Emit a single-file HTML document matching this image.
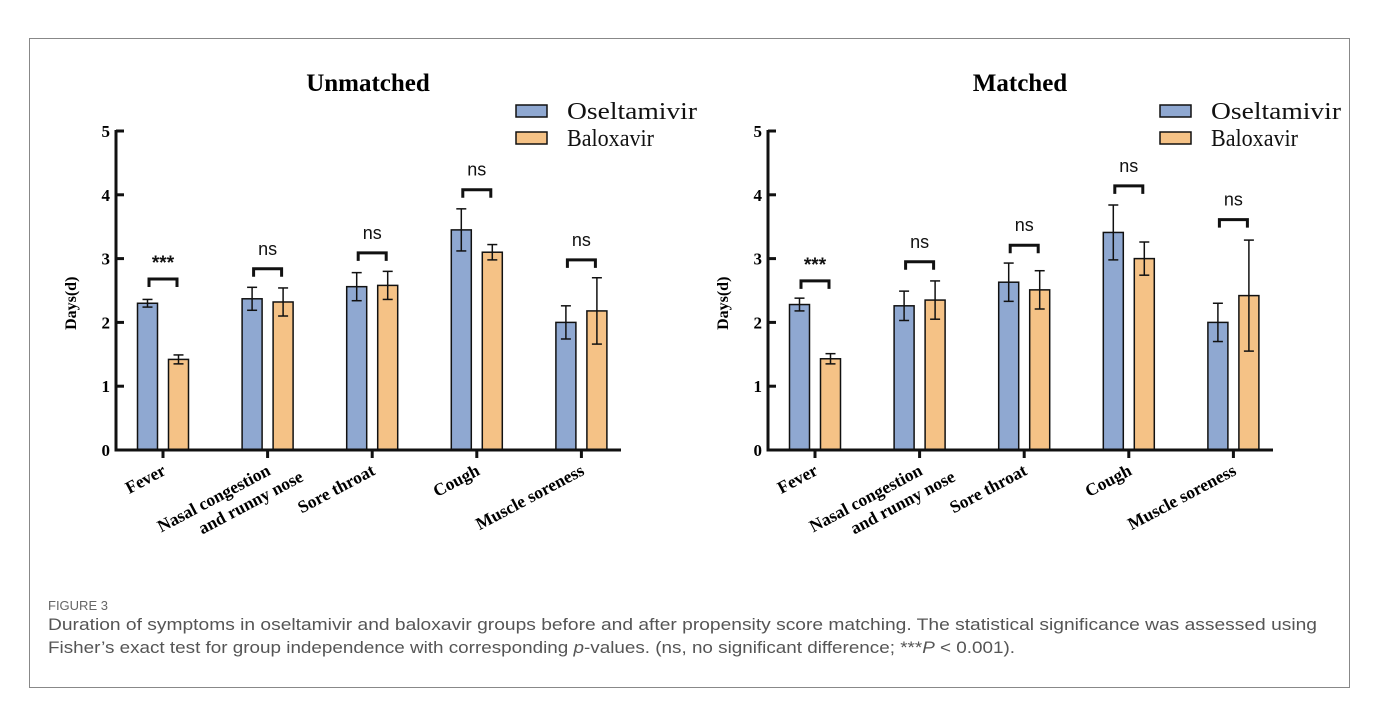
<!DOCTYPE html>
<html><head><meta charset="utf-8">
<style>
body{margin:0;background:#fff;width:1388px;height:716px;overflow:hidden;font-family:"Liberation Sans",sans-serif}
#frame{position:absolute;left:29px;top:38px;width:1321px;height:650px;border:1px solid #888;box-sizing:border-box}
.cap{position:absolute;left:48px;color:#555;font-size:17px;line-height:23px;white-space:nowrap;transform-origin:0 0}
</style></head><body>
<div id="frame"></div>
<svg id="svg" width="1388" height="716" style="position:absolute;left:0;top:0"></svg>
<div class="cap" style="top:594px;font-size:13px;color:#666">FIGURE 3</div>
<div class="cap fit" style="top:613px">Duration of symptoms in oseltamivir and baloxavir groups before and after propensity score matching. The statistical significance was assessed using</div>
<div class="cap fit" style="top:636px">Fisher’s exact test for group independence with corresponding <i>p</i>-values. (ns, no significant difference; ***<i>P</i> &lt; 0.001).</div>
<script>
const categories=["Fever","Nasal congestion|and runny nose","Sore throat","Cough","Muscle soreness"];
const yTicks=[0,1,2,3,4,5];
const unO=[2.30,2.37,2.56,3.45,2.00];
const unOerr=[0.06,0.18,0.22,0.33,0.26];
const unB=[1.42,2.32,2.58,3.10,2.18];
const unBerr=[0.07,0.22,0.22,0.12,0.52];
const unSig=["***","ns","ns","ns","ns"];
const unBr=[2.68,2.84,3.09,4.08,2.98];
const maO=[2.28,2.26,2.63,3.41,2.00];
const maOerr=[0.10,0.23,0.30,0.43,0.30];
const maB=[1.43,2.35,2.51,3.00,2.42];
const maBerr=[0.08,0.30,0.30,0.26,0.87];
const maSig=["***","ns","ns","ns","ns"];
const maBr=[2.65,2.95,3.21,4.14,3.61];

const svg=document.getElementById('svg');
const NS='http://www.w3.org/2000/svg';
function mk(tag,attrs,parent,text){const e=document.createElementNS(NS,tag);for(const k in attrs)e.setAttribute(k,attrs[k]);if(text!==undefined)e.textContent=text;(parent||svg).appendChild(e);return e;}
const SERIF='"Liberation Serif",serif';
function chart(name,ax0,legX,title,O,Oe,B,Be,sig,br){
  const g=mk('g',{});
  
  
  const y0=450,yTop=131,x1=ax0+505;
  const y=v=>y0-(v/5)*(y0-yTop);
  const cx=i=>ax0+47+i*104.6;
  const t=mk('text',{x:ax0+252,y:91,'text-anchor':'middle','font-family':SERIF,'font-weight':'bold','font-size':25},g,title);
  
  for(let i=0;i<categories.length;i++){
    [[O,Oe,'#8fa8d1',-15.5],[B,Be,'#f5c286',15.5]].forEach(([vals,errs,col,off],s)=>{
      const xc=cx(i)+off;
      const r=mk('rect',{x:xc-10,y:y(vals[i]),width:20,height:y0-y(vals[i]),fill:col,stroke:'#111','stroke-width':1.5},g);
      
      
      const hi=y(vals[i]+errs[i]),lo=y(vals[i]-errs[i]);
      mk('line',{x1:xc,x2:xc,y1:hi,y2:lo,stroke:'#111','stroke-width':1.5},g);
      mk('line',{x1:xc-5,x2:xc+5,y1:hi,y2:hi,stroke:'#111','stroke-width':1.5},g);
      mk('line',{x1:xc-5,x2:xc+5,y1:lo,y2:lo,stroke:'#111','stroke-width':1.5},g);
    });
    const by=y(br[i]);
    const b=mk('path',{d:`M${cx(i)-14} ${by+8}V${by}H${cx(i)+14}V${by+8}`,fill:'none',stroke:'#111','stroke-width':3},g);
    
    const st=mk('text',{x:cx(i),y:by-(sig[i]==='***'?10:14),'text-anchor':'middle','font-size':sig[i]==='***'?19:18,'font-weight':sig[i]==='***'?'bold':'normal',fill:'#111'},g,sig[i]);
    
    mk('line',{x1:cx(i),x2:cx(i),y1:y0,y2:y0+8,stroke:'#111','stroke-width':3},g);
    const parts=categories[i].split('|');
    const lt=mk('text',{transform:`translate(${cx(i)+4},${y0+24}) rotate(-28)`,'text-anchor':'end','font-family':SERIF,'font-weight':'bold','font-size':17.5},g);
    
    parts.forEach((p,k)=>mk('tspan',{x:k?26:0,dy:k?21:0},lt,p));
  }
  const ya=mk('line',{x1:ax0,x2:ax0,y1:yTop-1,y2:y0+1.5,stroke:'#111','stroke-width':3},g);
  
  const xa=mk('line',{x1:ax0-1.5,x2:x1,y1:y0,y2:y0,stroke:'#111','stroke-width':3},g);
  
  yTicks.forEach(v=>{
    mk('line',{x1:ax0,x2:ax0+8,y1:y(v),y2:y(v),stroke:'#111','stroke-width':3},g);
    const tl=mk('text',{x:ax0-6,y:y(v)+6,'text-anchor':'end','font-family':SERIF,'font-weight':'bold','font-size':17},g,v);
    
  });
  const yt=mk('text',{transform:`translate(${ax0-40},${y(2.3)}) rotate(-90)`,'text-anchor':'middle','font-family':SERIF,'font-weight':'bold','font-size':16},g,'Days(d)');
  
  [['Oseltamivir','#8fa8d1',111,130],['Baloxavir','#f5c286',138,87]].forEach(([lab,col,ly,tl])=>{
    const lg=mk('g',{},g);
    
    
    mk('rect',{x:legX,y:ly-6,width:31,height:12,fill:col,stroke:'#111','stroke-width':1.5},lg);
    mk('text',{x:legX+51,y:ly+8,'font-family':SERIF,'font-size':24,fill:'#111',textLength:tl,lengthAdjust:'spacingAndGlyphs'},lg,lab);
  });
}
chart('unmatched',116,516,'Unmatched',unO,unOerr,unB,unBerr,unSig,unBr);
chart('matched',768,1160,'Matched',maO,maOerr,maB,maBerr,maSig,maBr);
const targets=[1269,967];
document.querySelectorAll('.fit').forEach((el,i)=>{const w=el.getBoundingClientRect().width;el.style.transform='scaleX('+(targets[i]/w)+')';});
</script>
</body></html>
